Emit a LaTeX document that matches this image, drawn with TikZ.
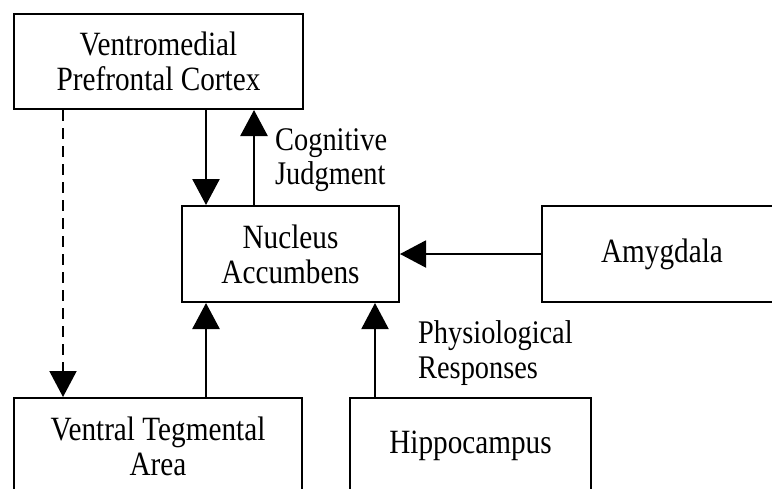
\documentclass[tikz,border=0pt]{standalone}
\usepackage{fontspec}
\setmainfont{Liberation Serif}[FakeStretch=0.86]
\usetikzlibrary{arrows.meta}
\begin{document}
\begin{tikzpicture}[x=1pt,y=-1pt,
  box/.style={draw, line width=2pt, rectangle, inner sep=0pt, align=center,
    font=\fontsize{34}{35}\selectfont},
  lbl/.style={inner sep=0pt, anchor=base west, font=\fontsize{33}{34}\selectfont},
  arr/.style={line width=2.6pt, -{Triangle[length=26pt,width=27pt]}},
  thinarr/.style={arr, line width=2pt},
  dashedarr/.style={line width=2pt, dash pattern=on 11pt off 7pt, -{Triangle[length=26pt,width=27pt]}}]
\useasboundingbox (0,0) rectangle (772,488);
\clip (0,0) rectangle (772,488);
\node[box, minimum width=289pt, minimum height=95pt] (vmpfc) at (158.5,61.5) {Ventromedial\\Prefrontal Cortex};
\node[box, minimum width=217pt, minimum height=96pt] (na) at (290.5,254) {Nucleus\\Accumbens};
\node[box, minimum width=240pt, minimum height=96pt] (amy) at (662,254) {Amygdala};
\node[box, minimum width=288pt, minimum height=96pt] (vta) at (158,446) {Ventral Tegmental\\Area};
\node[box, minimum width=241pt, minimum height=96pt] (hip) at (470.5,446) {Hippocampus};
\coordinate (xa) at (206,0);
\coordinate (xb) at (254,0);
\coordinate (xc) at (63,0);
\coordinate (xd) at (375,0);
\draw[arr] (vmpfc.south -| xa) -- (na.north -| xa);
\draw[arr] (na.north -| xb) -- (vmpfc.south -| xb);
\draw[arr] (vta.north -| xa) -- (na.south -| xa);
\draw[thinarr] (hip.north -| xd) -- (na.south -| xd);
\draw[thinarr] (amy.west) -- (na.east);
\draw[dashedarr] (vmpfc.south -| xc) -- (vta.north -| xc);
\node[lbl] (cog1) at (275,150) {Cognitive};
\node[lbl] (cog2) at (275,184) {Judgment};
\node[lbl] (phy1) at (418,343) {Physiological};
\node[lbl] (phy2) at (418,378) {Responses};
\end{tikzpicture}
\end{document}
